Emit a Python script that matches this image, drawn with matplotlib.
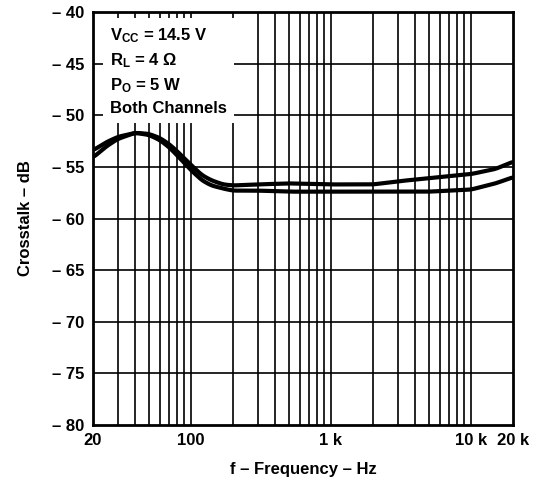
import matplotlib
matplotlib.use("Agg")
import matplotlib.pyplot as plt
import numpy as np

plt.rcParams['font.family'] = ['Liberation Sans', 'DejaVu Sans']
plt.rcParams['font.weight'] = 'bold'
plt.rcParams['mathtext.fontset'] = 'custom'
plt.rcParams['mathtext.rm'] = 'Liberation Sans:bold'
plt.rcParams['mathtext.it'] = 'Liberation Sans:bold'
plt.rcParams['mathtext.bf'] = 'Liberation Sans:bold'

# data
freq = [20, 25, 30, 40, 50, 60, 70, 80, 100, 120, 140, 170, 200, 300, 500,
        1000, 2000, 3000, 5000, 10000, 15000, 20000]
crosstalk_a = [-53.4, -52.6, -52.1, -51.7, -51.8, -52.2, -52.8, -53.5, -54.8, -55.8, -56.3, -56.7,
               -56.8, -56.7, -56.6, -56.7, -56.7, -56.4, -56.1, -55.7, -55.2, -54.5]
crosstalk_b = [-54.1, -53.0, -52.3, -51.7, -51.9, -52.4, -53.1, -53.9, -55.3, -56.3, -56.8, -57.1,
               -57.3, -57.3, -57.4, -57.4, -57.4, -57.4, -57.4, -57.2, -56.6, -56.0]

xticks = [20, 100, 1000, 10000, 20000]
xticklabels = ['20', '100', '1 k', '10 k', '20 k']
yticks = [-80, -75, -70, -65, -60, -55, -50, -45, -40]
yticklabels = ['– 80', '– 75', '– 70', '– 65', '– 60', '– 55', '– 50', '– 45', '– 40']

fig = plt.figure(figsize=(5.34, 4.78), dpi=100)
ax = fig.add_axes([93/534, 1-425/478, 420/534, 413/478])

# light smoothing along log-frequency so the curves look hand drawn
lf = np.log10(freq)
xs = np.linspace(lf[0], lf[-1], 600)
for ys in (crosstalk_a, crosstalk_b):
    yy = np.interp(xs, lf, ys)
    k = np.ones(11) / 11
    yy = np.convolve(np.pad(yy, 5, mode='edge'), k, mode='valid')
    ax.plot(10**xs, yy, color='black', lw=3.0, zorder=3)

ax.set_xscale('log')
ax.set_xlim(20, 20000)
ax.set_ylim(-80, -40)

minor = [m * 10**e for e in range(1, 5) for m in range(2, 10) if 20 < m * 10**e < 20000]
for f in minor + [100, 1000, 10000]:
    ax.axvline(f, color='black', lw=1.2, zorder=1)
for y in yticks[1:-1]:
    ax.axhline(y, color='black', lw=1.2, zorder=1)

ax.set_xticks(xticks)
ax.set_xticklabels(xticklabels)
ax.xaxis.set_minor_locator(matplotlib.ticker.NullLocator())
ax.set_yticks(yticks)
ax.set_yticklabels(yticklabels)
ax.tick_params(length=0, labelsize=12, pad=6)
for lab in ax.get_xticklabels() + ax.get_yticklabels():
    lab.set_fontweight('bold')
for s in ax.spines.values():
    s.set_linewidth(2)

ax.set_xlabel('f – Frequency – Hz', fontsize=12, fontweight='bold', labelpad=10)
ax.set_ylabel('Crosstalk – dB', fontsize=12, fontweight='bold', labelpad=14)

ax.text(0.04, 0.965,
        'V$_{\\mathrm{CC}}$ = 14.5 V\nR$_{\\mathrm{L}}$ = 4 Ω\nP$_{\\mathrm{O}}$ = 5 W\nBoth Channels',
        transform=ax.transAxes, ha='left', va='top', fontsize=12, fontweight='bold',
        linespacing=1.45, zorder=4,
        bbox=dict(facecolor='white', edgecolor='none', pad=5))

fig.savefig('out.png', dpi=100)
